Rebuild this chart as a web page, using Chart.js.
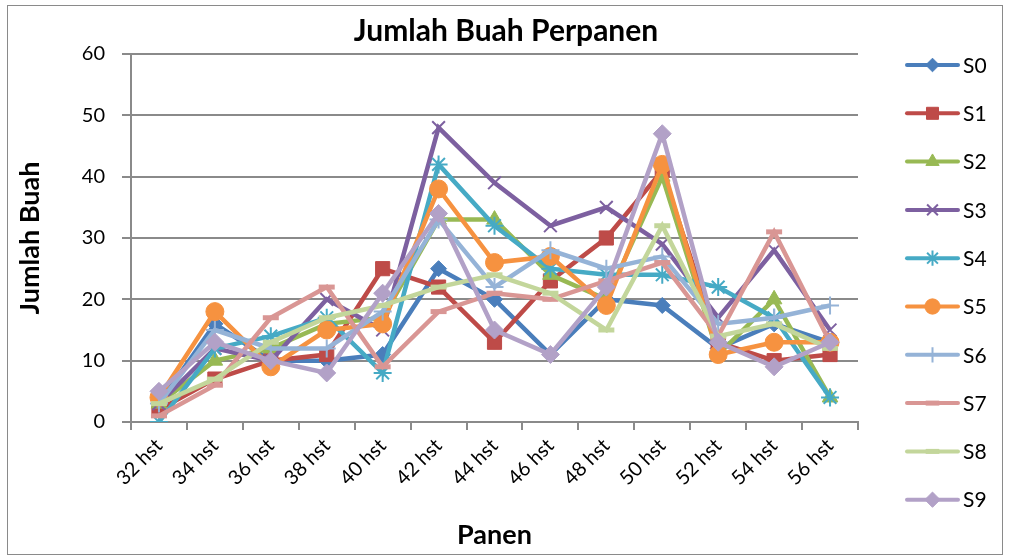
<!DOCTYPE html>
<html>
<head>
<meta charset="utf-8">
<script src="https://cdn.jsdelivr.net/npm/chart.js@4/dist/chart.umd.min.js"></script>
<style>
html,body{margin:0;padding:0;background:#fff;}
#wrap{width:1009px;height:559px;position:relative;}
canvas{display:block;}
</style>
</head>
<body>
<div id="wrap"><canvas id="c" width="1009" height="559"></canvas></div>
<script>
const categories = ['32 hst','34 hst','36 hst','38 hst','40 hst','42 hst','44 hst','46 hst','48 hst','50 hst','52 hst','54 hst','56 hst'];
const yTicks = [0,10,20,30,40,50,60];
const seriesNames = ['S0','S1','S2','S3','S4','S5','S6','S7','S8','S9'];
const S0 = [3,16,10,10,11,25,20,11,20,19,12,16,13];
const S1 = [2,7,10,11,25,22,13,23,30,41,13,10,11];
const S2 = [3,10,12,16,17,33,33,24,20,40,11,20,4];
const S3 = [3,12,10,20,15,48,39,32,35,29,17,28,15];
const S4 = [0,12,14,17,8,42,32,25,24,24,22,17,4];
const S5 = [4,18,9,15,16,38,26,27,19,42,11,13,13];
const S6 = [3,15,12,12,18,33,22,28,25,27,16,17,19];
const S7 = [1,6,17,22,9,18,21,20,23,26,14,31,13];
const S8 = [3,7,13,17,19,22,24,21,15,32,14,16,12];
const S9 = [5,13,10,8,21,34,15,11,22,47,13,9,13];
const seriesData = [S0,S1,S2,S3,S4,S5,S6,S7,S8,S9];
const colors = ['#4A7EBB','#BE4B48','#98B954','#7D60A0','#46AAC5','#F69240','#95B3D7','#D99694','#C3D69B','#B2A1C7'];
const markers = ['rectRot','rect','triangle','crossRot','star','circle','cross','line','line','rectRot'];
const markerRadius = [8,10,9,9,9,9,9,8,8,9];
const markerBorder = [1,1,1,2,2,1,2,5,5,1];

const GRID = '#8a8a8a';

const datasets = seriesNames.map((name,i)=>({
  label: name,
  data: seriesData[i],
  borderColor: colors[i],
  backgroundColor: colors[i],
  borderWidth: 4.5,
  tension: 0,
  fill: false,
  pointStyle: markers[i],
  pointRadius: markerRadius[i],
  pointHoverRadius: markerRadius[i],
  pointBackgroundColor: colors[i],
  pointBorderColor: colors[i],
  pointBorderWidth: markerBorder[i],
  order: 9 - i
}));

const extras = {
  id: 'extras',
  afterDraw(chart){
    const ctx = chart.ctx;
    ctx.save();
    ctx.strokeStyle = GRID;
    ctx.lineWidth = 1;
    ctx.strokeRect(7.5, 5.5, 995, 549);
    ctx.fillStyle = '#000';
    ctx.font = 'bold 30px Lato';
    ctx.textAlign = 'center';
    ctx.textBaseline = 'middle';
    ctx.fillText('Jumlah Buah Perpanen', 506, 31);
    ctx.font = '21px Lato';
    ctx.textAlign = 'left';
    for (let i = 0; i < seriesNames.length; i++) {
      const y = 65 + i * 48.3;
      ctx.strokeStyle = colors[i];
      ctx.lineWidth = 4;
      ctx.lineCap = 'round';
      ctx.beginPath();
      ctx.moveTo(907, y);
      ctx.lineTo(958, y);
      ctx.stroke();
      ctx.lineCap = 'butt';
      ctx.fillStyle = colors[i];
      ctx.strokeStyle = colors[i];
      ctx.lineWidth = markerBorder[i];
      if (Chart.helpers && Chart.helpers.drawPoint) {
        Chart.helpers.drawPoint(ctx, {pointStyle: markers[i], radius: markerRadius[i]*0.85, rotation: 0, borderWidth: markerBorder[i]}, 932.5, y);
      }
      ctx.fillStyle = '#000';
      ctx.fillText(seriesNames[i], 963, y + 1);
    }
    ctx.restore();
  }
};

new Chart(document.getElementById('c'), {
  type: 'line',
  data: { labels: categories, datasets },
  options: {
    responsive: false,
    animation: false,
    devicePixelRatio: 1,
    layout: { padding: { top: 54, right: 151, bottom: 0, left: 0 } },
    plugins: { legend: { display: false }, title: { display: false }, tooltip: { enabled: false } },
    scales: {
      x: {
        type: 'category',
        offset: true,
        grid: { display: true, offset: true, drawOnChartArea: false, drawTicks: true, tickLength: 8, color: GRID, lineWidth: 2 },
        border: { display: true, color: GRID, width: 2 },
        ticks: { maxRotation: 45, minRotation: 45, autoSkip: false, color: '#000', font: { family: 'Lato', size: 20 }, padding: 4 },
        title: { display: true, text: 'Panen', color: '#000', font: { family: 'Lato', size: 27, weight: 'bold' }, padding: { top: 0, bottom: 8 } },
        afterFit(scale){ scale.height = 137; }
      },
      y: {
        min: 0, max: 60,
        afterBuildTicks(scale){ scale.ticks = yTicks.map(v => ({ value: v })); },
        grid: { color: GRID, lineWidth: 2, drawTicks: true, tickLength: 9 },
        border: { display: true, color: GRID, width: 2 },
        ticks: { color: '#000', font: { family: 'Lato', size: 20 }, padding: 17 },
        title: { display: true, text: 'Jumlah Buah', color: '#000', font: { family: 'Lato', size: 27, weight: 'bold' }, padding: { top: 14, bottom: 0 } },
        afterFit(scale){ scale.width = 131; }
      }
    }
  },
  plugins: [extras]
});
</script>
</body>
</html>
